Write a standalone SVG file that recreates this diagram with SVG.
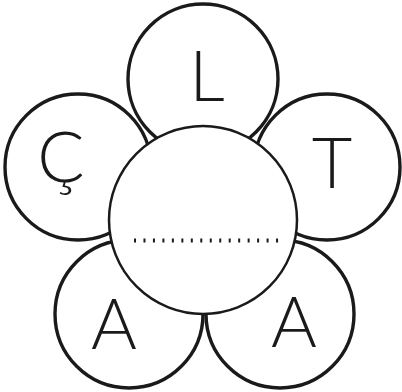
<svg xmlns="http://www.w3.org/2000/svg" width="402" height="392" viewBox="0 0 402 392">
<style>
.p{fill:#fff;stroke:#1a1a1a;stroke-width:3.4}
.c{fill:#fff;stroke:#1a1a1a;stroke-width:2.5}
.t{font-family:Lato,"Liberation Sans",sans-serif;font-weight:300;font-size:70px;fill:#1a1a1a;text-anchor:middle}
</style>
<rect width="402" height="392" fill="#fff"/>
<g id="petal-L"><circle class="p" cx="203" cy="79" r="75"/><text class="t" x="207" y="101">L</text></g>
<g id="petal-T"><circle class="p" cx="327" cy="167" r="73"/><text class="t" x="332" y="188">T</text></g>
<g id="petal-C"><circle class="p" cx="78" cy="167" r="73"/><text class="t" x="61" y="182">Ç</text></g>
<g id="petal-A1"><circle class="p" cx="129" cy="314" r="74"/><text class="t" x="114" y="349">A</text></g>
<g id="petal-A2"><circle class="p" cx="280" cy="314" r="74"/><text class="t" x="294" y="347">A</text></g>
<g id="center"><circle class="c" cx="203" cy="220" r="94"/>
<line x1="134" y1="240.5" x2="278.05" y2="240.5" stroke="#1a1a1a" stroke-width="4" stroke-dasharray="2 7.47"/></g>
</svg>
